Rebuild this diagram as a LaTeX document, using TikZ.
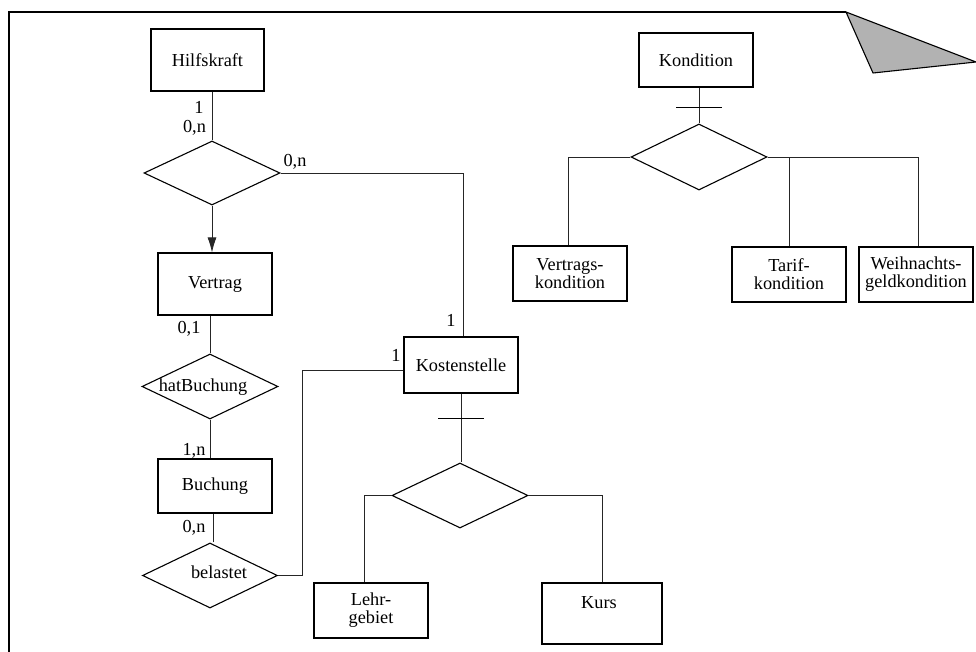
\documentclass[tikz,border=0pt]{standalone}
\usepackage{fontspec}
\setmainfont{Liberation Serif}
\usepackage{tikz}
\usetikzlibrary{arrows.meta,shapes.geometric}
\newcommand{\erfont}{\fontsize{18.3}{18}\selectfont}
\tikzset{
  entity/.style={draw,line width=1.1pt,rectangle,minimum width=114,minimum height=55,inner sep=0pt,align=center,font=\erfont},
  relship/.style={draw,line width=1.1pt,diamond,minimum width=136,minimum height=65,inner sep=0pt},
  reltext/.style={anchor=base,inner sep=0pt,font=\erfont},
  cardlabel/.style={anchor=base,inner sep=0pt,font=\erfont},
  link/.style={line width=0.8pt,draw=black!85},
  linkarrow/.style={link,-{Latex[length=15pt,width=9pt]}},
  isabar/.style={line width=1.1pt},
  pageframe/.style={line width=1.1pt},
  pagefold/.style={line width=1.1pt,fill=gray!60,line join=round}
}

\begin{document}
\begin{tikzpicture}[x=1pt,y=-1pt]
  \useasboundingbox (0,0) rectangle (976,652);
  % page with folded corner
  \draw[pageframe] (9,652) -- (9,12) -- (846,12);
  \filldraw[pagefold] (846,12) -- (976,62) -- (873,73) -- cycle;

  % left branch
  \node[entity,minimum width=113,minimum height=62] (hilfskraft) at (207.5,60) {Hilfskraft};
  \node[relship,minimum height=64] (rhilfe) at (212,173) {};
  \node[entity,minimum height=62] (vertrag) at (215,284) {Vertrag};
  \node[relship] (hatbuchung) at (210,386.5) {};
  \node[reltext] (hatbuchungtext) at (203,391) {hatBuchung};
  \node[entity,minimum height=54] (buchung) at (215,486) {Buchung};
  \node[relship,minimum width=135] (belastet) at (210,575.5) {};
  \node[reltext] (belastettext) at (219,578) {belastet};

  % Kostenstelle and subtypes
  \node[entity,minimum height=56] (kosten) at (461,365) {Kostenstelle};
  \node[relship] (isakosten) at (460,495.5) {};
  \node[entity] (lehr) at (371,610.5) {Lehr-\\gebiet};
  \node[entity,minimum width=120,minimum height=61] (kurs) at (602,613.5) {};
  \node[reltext] (kurstext) at (599,608) {Kurs};

  % Kondition and subtypes
  \node[entity,minimum height=54] (kond) at (696,60) {Kondition};
  \node[relship,minimum height=66] (isakond) at (699,157) {};
  \node[entity] (vkond) at (570,273.5) {Vertrags-\\kondition};
  \node[entity] (tkond) at (789,274.5) {Tarif-\\kondition};
  \node[entity] (wkond) at (916,274.5) {Weihnachts-\\geldkondition};

  \coordinate (bend) at (302,370);

  % connectors
  \draw[link] (rhilfe.north) -- (rhilfe.north |- hilfskraft.south);
  \draw[linkarrow] (rhilfe.south) -- (rhilfe.south |- vertrag.north);
  \draw[link] (rhilfe.east) -| ([xshift=2pt]kosten.north);
  \draw[link] (hatbuchung.north) -- (hatbuchung.north |- vertrag.south);
  \draw[link] (hatbuchung.south) -- (hatbuchung.south |- buchung.north);
  \draw[link] ([xshift=3pt]belastet.north) -- ([xshift=3pt]belastet.north |- buchung.south);
  \draw[link] (belastet.east) -| (bend) -- (bend -| kosten.west);

  \draw[link] (kosten.south) -- (kosten.south |- isakosten.north);
  \draw[isabar] ([yshift=-25pt]kosten.south) +(-23,0) -- +(23,0);
  \draw[link] (isakosten.west) -| ([xshift=-7pt]lehr.north);
  \draw[link] (isakosten.east) -| (kurs.north);

  \draw[link] (isakond.north) -- (isakond.north |- kond.south);
  \draw[isabar] ([yshift=-20pt]isakond.north |- kond.south) +(-23,0) -- +(23,0);
  \draw[link] (isakond.west) -| ([xshift=-2pt]vkond.north);
  \draw[link] (isakond.east) -| ([xshift=2pt]wkond.north);
  \draw[link] (tkond.north) -- (tkond.north |- isakond.east);

  % cardinalities
  \node[cardlabel] (c1) at (199,114) {1};
  \node[cardlabel] (c2) at (194.5,133) {0,n};
  \node[cardlabel] (c3) at (295,167) {0,n};
  \node[cardlabel] (c4) at (189,333) {0,1};
  \node[cardlabel] (c5) at (194,455) {1,n};
  \node[cardlabel] (c6) at (194,532) {0,n};
  \node[cardlabel] (c7) at (451,326) {1};
  \node[cardlabel] (c8) at (396,361) {1};
\end{tikzpicture}
\end{document}
